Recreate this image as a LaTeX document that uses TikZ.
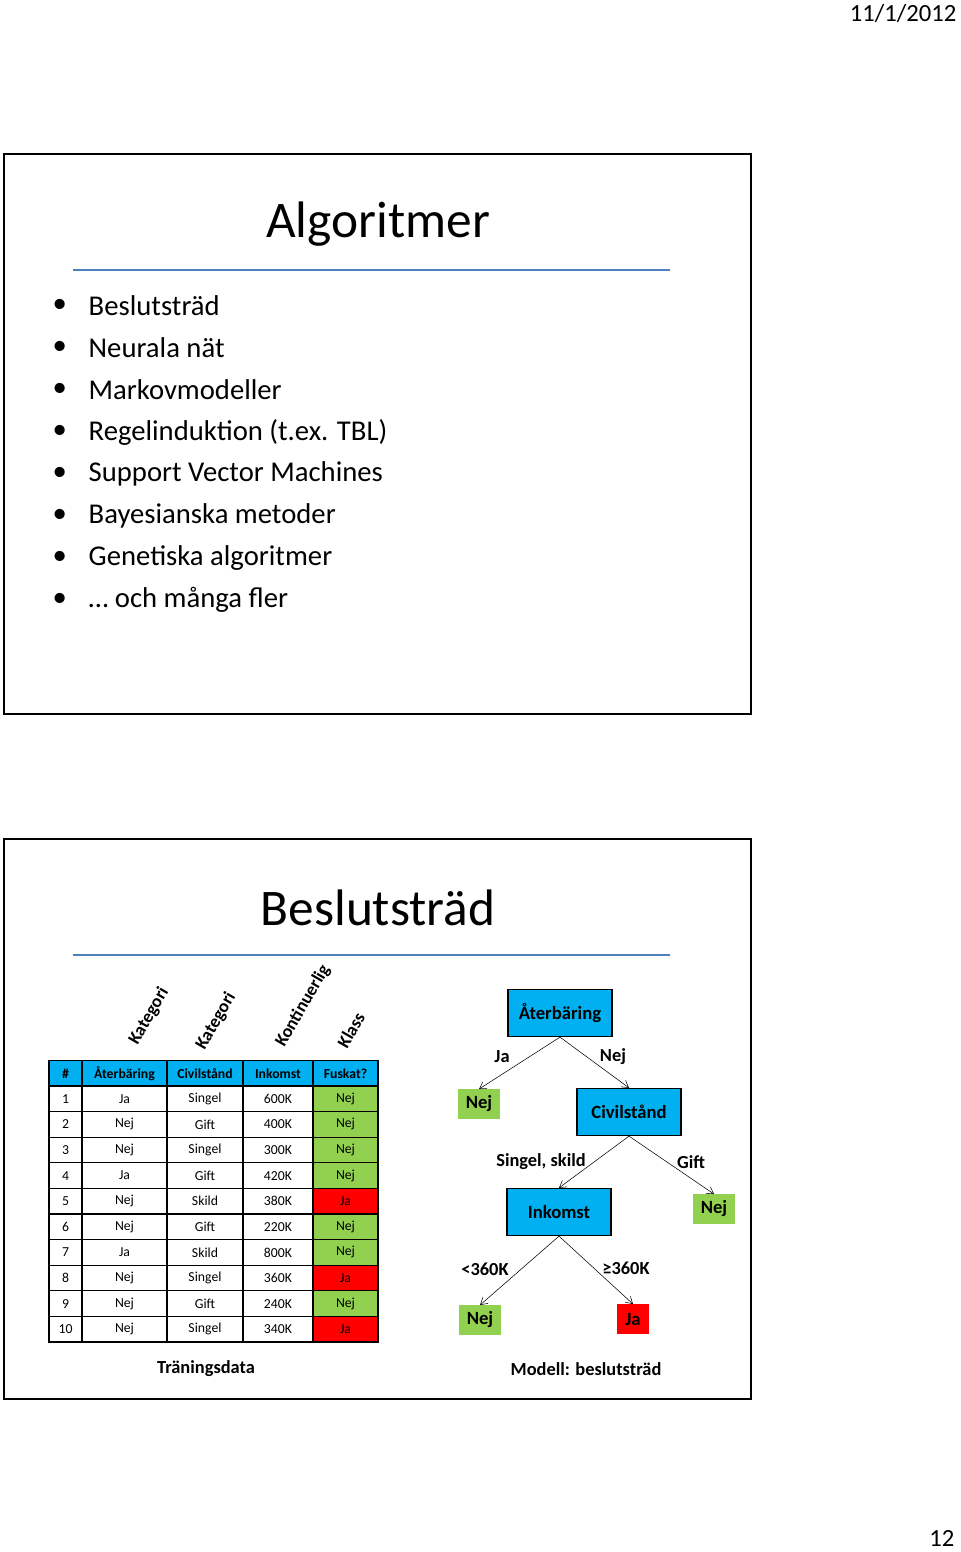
\documentclass[tikz,border=0pt]{standalone}
\usepackage{fontspec}
\setmainfont{Carlito}
\usetikzlibrary{arrows.meta, positioning}
\definecolor{hdblue}{HTML}{00B0F0}
\definecolor{leafgreen}{HTML}{92D050}
\definecolor{leafred}{HTML}{FF0000}
\definecolor{rulecol}{HTML}{4F81BD}

\begin{document}
\begin{tikzpicture}[
    x=0.75pt, y=-0.75pt,
    slide/.style={draw, line width=1.2pt},
    titletext/.style={font=\fontsize{38.5}{42}\selectfont},
    bullet/.style={anchor=west, font=\fontsize{21.5}{25}\selectfont},
    cell/.style={draw, line width=0.9pt, inner sep=0pt, font=\fontsize{10.3}{12}\selectfont},
    hcell/.style={cell, fill=hdblue, font=\fontsize{10.3}{12}\selectfont\bfseries},
    vlabel/.style={rotate=60, inner sep=0pt, font=\fontsize{13.5}{15}\selectfont\bfseries},
    splitbox/.style={draw, line width=1.2pt, fill=hdblue, minimum width=78pt, minimum height=35pt, font=\fontsize{14}{16}\selectfont\bfseries},
    leafbox/.style={inner sep=0pt, minimum height=22pt, font=\fontsize{14}{16}\selectfont\bfseries},
    edgelabel/.style={font=\fontsize{13.8}{16}\selectfont\bfseries},
    arrow/.style={-{Straight Barb[length=5pt,width=6pt]}, thin}
]
\useasboundingbox (0,0) rectangle (960,1552);

% Page
\node[anchor=north east, inner sep=1pt, font=\fontsize{18.5}{22}\selectfont] (date) at (958,3) {11/1/2012};
\node[anchor=south east, inner sep=1pt, font=\fontsize{18.5}{22}\selectfont] (page) at (956,1548) {12};

% Slide 1
\draw[slide] (4,154) rectangle (751,714);
\node[titletext] (title1) at (378,224) {Algoritmer};
\draw[rulecol, line width=1.3pt] (73,270) -- (670,270);
\foreach \txt [count=\i] in {Beslutsträd, Neurala nät, Markovmodeller, Regelinduktion (t.ex. TBL), Support Vector Machines, Bayesianska metoder, Genetiska algoritmer, … och många fler} {
  \node[bullet] (dot\i) at (48,{306+42*(\i-1)}) {•};
  \node[bullet] (item\i) at (84,{306+42*(\i-1)}) {\txt};
}

% Slide 2
\draw[slide] (4,839) rectangle (751,1399);
\node[titletext] (title2) at (378,908) {Beslutsträd};
\draw[rulecol, line width=1.3pt] (73,955) -- (670,955);

% Column types
\node[vlabel] (type1) at (149,1016) {Kategori};
\node[vlabel] (type2) at (216,1021) {Kategori};
\node[vlabel] (type3) at (303,1006) {Kontinuerlig};
\node[vlabel] (type4) at (351,1030) {Klass};

% Table header
\node[hcell, minimum width=24.75pt, minimum height=19pt] (h1) at (65.5,1073.5) {\#};
\node[hcell, minimum width=63.75pt, minimum height=19pt] (h2) at (124.5,1073.5) {Återbäring};
\node[hcell, minimum width=57pt, minimum height=19pt] (h3) at (205,1073.5) {Civilstånd};
\node[hcell, minimum width=52.5pt, minimum height=19pt] (h4) at (278,1073.5) {Inkomst};
\node[hcell, minimum width=48.75pt, minimum height=19pt] (h5) at (345.5,1073.5) {Fuskat?};

% Table rows
\foreach \a/\b/\c/\d/\e [count=\r] in {Ja/Singel/600K/Nej/leafgreen, Nej/Gift/400K/Nej/leafgreen, Nej/Singel/300K/Nej/leafgreen, Ja/Gift/420K/Nej/leafgreen, Nej/Skild/380K/Ja/leafred, Nej/Gift/220K/Nej/leafgreen, Ja/Skild/800K/Nej/leafgreen, Nej/Singel/360K/Ja/leafred, Nej/Gift/240K/Nej/leafgreen, Nej/Singel/340K/Ja/leafred} {
  \pgfmathsetmacro{\yy}{1086+25.6*(\r-0.5)}
  \node[cell, minimum width=24.75pt, minimum height=19.2pt] (n\r) at (65.5,\yy) {\r};
  \node[cell, minimum width=63.75pt, minimum height=19.2pt] (a\r) at (124.5,\yy) {\a};
  \node[cell, minimum width=57pt, minimum height=19.2pt] (c\r) at (205,\yy) {\b};
  \node[cell, minimum width=52.5pt, minimum height=19.2pt] (i\r) at (278,\yy) {\c};
  \node[cell, fill=\e, minimum width=48.75pt, minimum height=19.2pt] (f\r) at (345.5,\yy) {\d};
}
\node[edgelabel] (traincap) at (206,1369) {Träningsdata};

% Tree
\node[splitbox] (ater) at (560,1013) {Återbäring};
\node[leafbox, fill=leafgreen, minimum width=31.5pt] (leafA) at (479,1104) {Nej};
\node[splitbox] (civil) at (629,1112) {Civilstånd};
\node[leafbox, fill=leafgreen, minimum width=31.5pt] (leafB) at (714,1209) {Nej};
\node[splitbox] (inkomst) at (559,1212) {Inkomst};
\node[leafbox, fill=leafgreen, minimum width=31.5pt] (leafC) at (480,1320) {Nej};
\node[leafbox, fill=leafred, minimum width=24pt] (leafD) at (633,1319) {Ja};

\draw[arrow] (ater.south) -- (leafA.north);
\draw[arrow] (ater.south) -- (civil.north);
\draw[arrow] (civil.south) -- (inkomst.north);
\draw[arrow] (civil.south) -- (leafB.north);
\draw[arrow] (inkomst.south) -- (leafC.north);
\draw[arrow] (inkomst.south) -- (leafD.north);

\node[edgelabel] (lblJa) at (502,1057) {Ja};
\node[edgelabel] (lblNej) at (613,1057) {Nej};
\node[edgelabel] (lblSingel) at (541,1162) {Singel, skild};
\node[edgelabel] (lblGift) at (691,1162) {Gift};
\node[edgelabel] (lblLow) at (485,1269) {<360K};
\node[edgelabel] (lblHigh) at (626,1268) {≥360K};
\node[edgelabel] (modelcap) at (586,1369) {Modell: beslutsträd};

\end{tikzpicture}
\end{document}
